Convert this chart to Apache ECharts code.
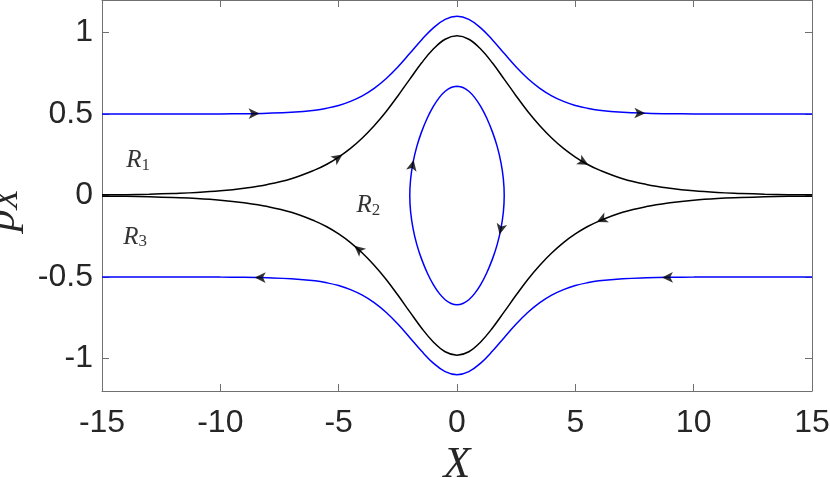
<!DOCTYPE html>
<html>
<head>
<meta charset="utf-8">
<script src="https://cdn.jsdelivr.net/npm/echarts@6/dist/echarts.min.js"></script>
<style>
  html, body { margin: 0; padding: 0; background: #fff; }
  #chart { width: 830px; height: 478px; }
</style>
</head>
<body>
<div id="chart"></div>
<script>
// tick values
const xTicks = [-15, -10, -5, 0, 5, 10, 15];
const yTicks = [-1, -0.5, 0, 0.5, 1];

// X positions shared by the open trajectories
const xs = [-15, -14, -13, -12, -11, -10, -9, -8, -7, -6,
  -5.5, -5, -4.5, -4, -3.5, -3, -2.5, -2, -1.5, -1, -0.5,
  0,
  0.5, 1, 1.5, 2, 2.5, 3, 3.5, 4, 4.5, 5, 5.5,
  6, 7, 8, 9, 10, 11, 12, 13, 14, 15];

// separatrix (black)
const sepTop = [0.004, 0.005, 0.008, 0.013, 0.019, 0.029, 0.045, 0.068, 0.103, 0.157,
  0.192, 0.236, 0.289, 0.353, 0.428, 0.514, 0.611, 0.713, 0.813, 0.899, 0.959,
  0.980,
  0.959, 0.899, 0.813, 0.713, 0.611, 0.514, 0.428, 0.353, 0.289, 0.236, 0.192,
  0.157, 0.103, 0.068, 0.045, 0.029, 0.019, 0.013, 0.008, 0.005, 0.004];
const sepBot = [-0.004, -0.005, -0.008, -0.013, -0.019, -0.029, -0.045, -0.068, -0.103, -0.157,
  -0.192, -0.236, -0.289, -0.353, -0.428, -0.514, -0.611, -0.713, -0.813, -0.899, -0.959,
  -0.980,
  -0.959, -0.899, -0.813, -0.713, -0.611, -0.514, -0.428, -0.353, -0.289, -0.236, -0.192,
  -0.157, -0.103, -0.068, -0.045, -0.029, -0.019, -0.013, -0.008, -0.005, -0.004];

// outer trajectories (blue)
const outerTop = [0.500, 0.500, 0.500, 0.500, 0.500, 0.501, 0.502, 0.505, 0.511, 0.524,
  0.536, 0.553, 0.578, 0.612, 0.658, 0.717, 0.789, 0.871, 0.955, 1.029, 1.081,
  1.100,
  1.081, 1.029, 0.955, 0.871, 0.789, 0.717, 0.658, 0.612, 0.578, 0.553, 0.536,
  0.524, 0.511, 0.505, 0.502, 0.501, 0.500, 0.500, 0.500, 0.500, 0.500];
const outerBot = [-0.500, -0.500, -0.500, -0.500, -0.500, -0.501, -0.502, -0.505, -0.511, -0.524,
  -0.536, -0.553, -0.578, -0.612, -0.658, -0.717, -0.789, -0.871, -0.955, -1.029, -1.081,
  -1.100,
  -1.081, -1.029, -0.955, -0.871, -0.789, -0.717, -0.658, -0.612, -0.578, -0.553, -0.536,
  -0.524, -0.511, -0.505, -0.502, -0.501, -0.500, -0.500, -0.500, -0.500, -0.500];

// closed orbit (blue), clockwise from the top
const innerX = [0, 0.25, 0.5, 0.75, 1, 1.25, 1.5, 1.7, 1.86, 1.96, 1.995, 1.96, 1.86, 1.7, 1.5, 1.25, 1, 0.75, 0.5, 0.25,
  0, -0.25, -0.5, -0.75, -1, -1.25, -1.5, -1.7, -1.86, -1.96, -1.995, -1.96, -1.86, -1.7, -1.5, -1.25, -1, -0.75, -0.5, -0.25, 0];
const innerP = [0.671, 0.663, 0.640, 0.601, 0.547, 0.477, 0.389, 0.300, 0.200, 0.100, 0, -0.100, -0.200, -0.300, -0.389, -0.477, -0.547, -0.601, -0.640, -0.663,
  -0.671, -0.663, -0.640, -0.601, -0.547, -0.477, -0.389, -0.300, -0.200, -0.100, 0, 0.100, 0.200, 0.300, 0.389, 0.477, 0.547, 0.601, 0.640, 0.663, 0.671];

// arrowheads: position and flow direction (dX, dp)
const arrowX  = [-8.34, 7.96, 8.66, -8.55, -4.84, 5.55, 5.9, -4.34, -1.833, 1.80];
const arrowP  = [0.504, 0.505, -0.503, -0.503, 0.252, 0.189, -0.163, -0.308, 0.218, -0.24];
const arrowDX = [1, 1, -1, -1, 1, 1, -1, -1, 1.48, -1.48];
const arrowDP = [0.003, -0.003, -0.002, 0.002, 0.102, -0.078, -0.068, 0.123, 1, -1];

// region labels
const regX = [-13.47, -3.74, -13.6];
const regP = [0.214, -0.063, -0.255];
const regSub = ['1', '2', '3'];

const AX = '#707070';
const TXT = '#262626';

const chart = echarts.init(document.getElementById('chart'));

function pairs(xa, ya) {
  return xa.map(function (x, i) { return [x, ya[i]]; });
}

function curve(xa, ya, color) {
  return {
    type: 'line',
    data: pairs(xa, ya),
    symbol: 'none',
    smooth: 0.4,
    lineStyle: { color: color, width: 1.5 },
    silent: true,
    z: 2
  };
}

function sideAxis(pos, min, max, ticks) {
  return {
    type: 'value', position: pos, min: min, max: max,
    axisLine: { show: true, onZero: false, lineStyle: { color: AX, width: 1 } },
    axisTick: { show: true, inside: true, length: 7, customValues: ticks, lineStyle: { color: AX } },
    axisLabel: { show: false },
    splitLine: { show: false }
  };
}

const option = {
  animation: false,
  backgroundColor: '#fff',
  grid: { left: 102, right: 18, top: 0, bottom: 87, outerBoundsMode: 'none' },
  xAxis: [
    {
      type: 'value', position: 'bottom', min: -15, max: 15,
      axisLine: { show: true, onZero: false, lineStyle: { color: AX, width: 1 } },
      axisTick: { show: true, inside: true, length: 7, customValues: xTicks, lineStyle: { color: AX } },
      axisLabel: { customValues: xTicks, margin: 16, color: TXT, fontSize: 32, fontFamily: 'Liberation Sans' },
      splitLine: { show: false },
      name: 'X', nameLocation: 'middle', nameGap: 52, nameMoveOverlap: false,
      nameTextStyle: { fontFamily: 'Liberation Serif', fontStyle: 'italic', fontSize: 44, color: TXT }
    },
    sideAxis('top', -15, 15, xTicks)
  ],
  yAxis: [
    {
      type: 'value', position: 'left', min: -1.2, max: 1.2,
      axisLine: { show: true, onZero: false, lineStyle: { color: AX, width: 1 } },
      axisTick: { show: true, inside: true, length: 7, customValues: yTicks, lineStyle: { color: AX } },
      axisLabel: { customValues: yTicks, margin: 9, color: TXT, fontSize: 32, fontFamily: 'Liberation Sans', padding: [6, 0, 0, 0] },
      splitLine: { show: false },
      name: '{p|p}{s|X}', nameLocation: 'middle', nameRotate: 90, nameGap: 77, nameMoveOverlap: false,
      nameTextStyle: {
        padding: [0, 30, 0, 0],
        rich: {
          p: { fontFamily: 'Liberation Serif', fontStyle: 'italic', fontSize: 44, lineHeight: 46, color: TXT },
          s: { fontFamily: 'Liberation Serif', fontStyle: 'italic', fontSize: 33, lineHeight: 25, verticalAlign: 'bottom', color: TXT }
        }
      }
    },
    sideAxis('right', -1.2, 1.2, yTicks)
  ],
  series: [
    curve(xs, outerTop, '#0000ff'),
    curve(xs, outerBot, '#0000ff'),
    curve(xs, sepTop, '#000000'),
    curve(xs, sepBot, '#000000'),
    curve(innerX, innerP, '#0000ff'),
    {
      type: 'scatter',
      data: regX.map(function (x, i) { return { value: [x, regP[i]], name: regSub[i] }; }),
      symbolSize: 1,
      itemStyle: { color: 'rgba(0,0,0,0)' },
      silent: true,
      label: {
        show: true, position: 'inside',
        formatter: function (p) { return '{r|R}{s|' + p.name + '}'; },
        rich: {
          r: { fontFamily: 'Liberation Serif', fontStyle: 'italic', fontSize: 25, lineHeight: 26, color: '#000' },
          s: { fontFamily: 'Liberation Serif', fontSize: 17, lineHeight: 16, verticalAlign: 'bottom', color: '#000' }
        }
      },
      z: 4
    }
  ]
};

chart.setOption(option);

// arrowheads rotated along the flow, in pixel space
const arrows = arrowX.map(function (x, i) {
  const a = chart.convertToPixel({ seriesIndex: 0 }, [x, arrowP[i]]);
  const b = chart.convertToPixel({ seriesIndex: 0 }, [x + arrowDX[i] * 0.01, arrowP[i] + arrowDP[i] * 0.01]);
  const deg = Math.atan2(-(b[1] - a[1]), b[0] - a[0]) * 180 / Math.PI;
  return { value: [x, arrowP[i]], symbolRotate: deg - 90 };
});

chart.setOption({
  series: option.series.concat([{
    type: 'scatter',
    data: arrows,
    symbol: 'arrow',
    symbolSize: [8, 11],
    itemStyle: { color: '#000' },
    silent: true,
    z: 5
  }])
});
</script>
</body>
</html>
